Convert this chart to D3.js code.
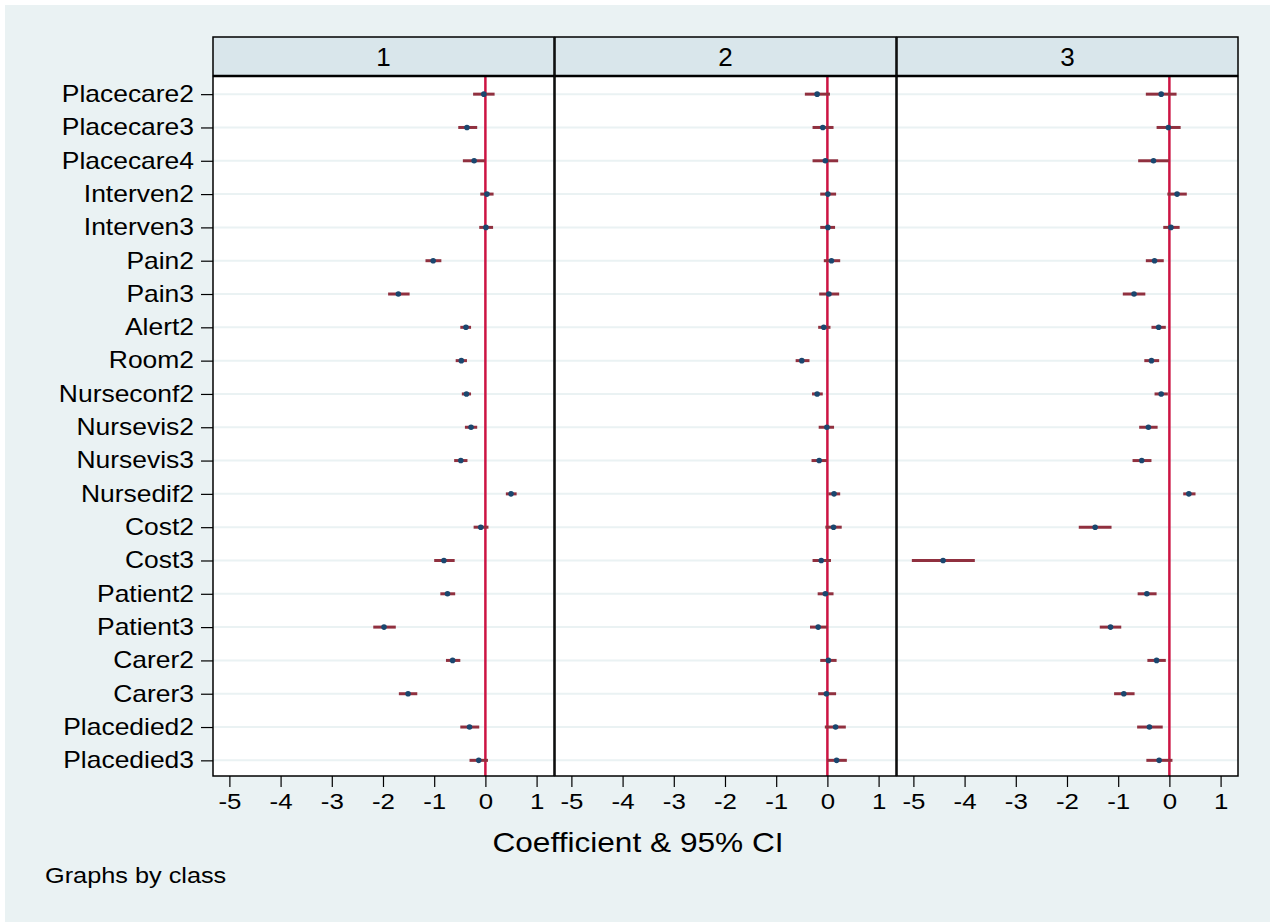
<!DOCTYPE html>
<html>
<head>
<meta charset="utf-8">
<script src="https://cdn.jsdelivr.net/npm/d3@7"></script>
<style>
  body { margin: 0; background: #fff; }
  svg text { font-family: "Liberation Sans", Arial, sans-serif; fill: #000; }
</style>
</head>
<body>
<svg id="chart" width="1270" height="922"></svg>
<script>
// variables, top to bottom
const labels = ["Placecare2", "Placecare3", "Placecare4", "Interven2", "Interven3",
  "Pain2", "Pain3", "Alert2", "Room2", "Nurseconf2", "Nursevis2", "Nursevis3",
  "Nursedif2", "Cost2", "Cost3", "Patient2", "Patient3", "Carer2", "Carer3",
  "Placedied2", "Placedied3"];

const classes = ["1", "2", "3"];
const xTicks = [-5, -4, -3, -2, -1, 0, 1];

// coefficients per class
const coef1 = [-0.03, -0.36, -0.22, 0.03, 0.01, -1.02, -1.70, -0.38, -0.47, -0.37, -0.28,
  -0.48, 0.50, -0.09, -0.81, -0.74, -1.98, -0.64, -1.51, -0.31, -0.13];
const lo1 = [-0.24, -0.53, -0.44, -0.10, -0.12, -1.17, -1.90, -0.49, -0.58, -0.46, -0.40,
  -0.61, 0.40, -0.23, -1.00, -0.88, -2.19, -0.77, -1.69, -0.49, -0.31];
const hi1 = [0.18, -0.16, -0.01, 0.16, 0.15, -0.86, -1.48, -0.28, -0.36, -0.28, -0.16,
  -0.35, 0.61, 0.06, -0.60, -0.59, -1.75, -0.49, -1.33, -0.12, 0.05];

const coef2 = [-0.20, -0.09, -0.04, 0.01, 0.01, 0.08, 0.03, -0.07, -0.50, -0.20, -0.01,
  -0.16, 0.13, 0.12, -0.12, -0.04, -0.18, 0.02, -0.02, 0.16, 0.18];
const lo2 = [-0.44, -0.29, -0.29, -0.14, -0.14, -0.07, -0.16, -0.18, -0.62, -0.30, -0.17,
  -0.31, 0.02, -0.04, -0.29, -0.19, -0.34, -0.14, -0.18, -0.05, 0.00];
const hi2 = [0.05, 0.12, 0.21, 0.17, 0.15, 0.25, 0.23, 0.06, -0.35, -0.09, 0.13,
  -0.01, 0.25, 0.28, 0.07, 0.12, 0.00, 0.18, 0.17, 0.36, 0.38];

const coef3 = [-0.16, -0.02, -0.31, 0.15, 0.03, -0.29, -0.69, -0.21, -0.35, -0.16, -0.41,
  -0.54, 0.38, -1.45, -4.42, -0.44, -1.15, -0.25, -0.89, -0.39, -0.20];
const lo3 = [-0.46, -0.25, -0.61, -0.04, -0.12, -0.46, -0.91, -0.35, -0.49, -0.29, -0.59,
  -0.72, 0.27, -1.77, -5.03, -0.62, -1.36, -0.43, -1.08, -0.63, -0.45];
const hi3 = [0.14, 0.22, -0.01, 0.34, 0.20, -0.11, -0.47, -0.07, -0.20, -0.03, -0.23,
  -0.35, 0.51, -1.13, -3.80, -0.25, -0.94, -0.07, -0.68, -0.13, 0.06];

const coefs = [coef1, coef2, coef3];
const lows = [lo1, lo2, lo3];
const highs = [hi1, hi2, hi3];

// layout
const panelLeft = 213, panelW = 341, panelStep = 342;
const stripTop = 37, stripBottom = 75.5;
const plotTop = 76.5, plotBottom = 776;
const stretch = 1.15; // stata text is wider than arial

const svg = d3.select("#chart");

svg.append("rect").attr("x", 5).attr("y", 5).attr("width", 1265).attr("height", 917)
  .attr("fill", "#eaf2f3");

const y = d3.scalePoint().domain(labels).range([plotTop + 1, plotBottom + 1]).padding(0.5);

classes.forEach((cls, i) => {
  const x0 = panelLeft + i * panelStep;
  const x = d3.scaleLinear().domain([-5.32, 1.34]).range([x0, x0 + panelW]);
  const g = svg.append("g");

  // header strip
  g.append("rect").attr("x", x0).attr("y", stripTop).attr("width", panelW)
    .attr("height", stripBottom - stripTop).attr("fill", "#d9e6eb")
    .attr("stroke", "#000").attr("stroke-width", 1.5);
  g.append("text").attr("x", x0 + panelW / 2).attr("y", 66)
    .attr("text-anchor", "middle").attr("font-size", 26).text(cls);

  // plot area
  g.append("rect").attr("x", x0).attr("y", plotTop).attr("width", panelW)
    .attr("height", plotBottom - plotTop).attr("fill", "#fff");

  g.selectAll(".grid").data(labels).join("line")
    .attr("x1", x0).attr("x2", x0 + panelW)
    .attr("y1", d => y(d)).attr("y2", d => y(d))
    .attr("stroke", "#eaf2f3").attr("stroke-width", 2);

  g.append("line").attr("x1", x(0)).attr("x2", x(0))
    .attr("y1", plotTop).attr("y2", plotBottom)
    .attr("stroke", "#cc1443").attr("stroke-width", 2.5);

  const rows = labels.map((l, j) => ({ l, b: coefs[i][j], lo: lows[i][j], hi: highs[i][j] }));

  g.selectAll(".ci").data(rows).join("line")
    .attr("x1", d => x(d.lo)).attr("x2", d => x(d.hi))
    .attr("y1", d => y(d.l)).attr("y2", d => y(d.l))
    .attr("stroke", "#90303f").attr("stroke-width", 3);

  g.selectAll(".pt").data(rows).join("circle")
    .attr("cx", d => x(d.b)).attr("cy", d => y(d.l)).attr("r", 2.8)
    .attr("fill", "#1a476f");

  g.append("rect").attr("x", x0).attr("y", plotTop).attr("width", panelW)
    .attr("height", plotBottom - plotTop).attr("fill", "none")
    .attr("stroke", "#000").attr("stroke-width", 1.5);

  // bottom axis
  const ax = g.append("g").attr("transform", `translate(0,${plotBottom})`)
    .call(d3.axisBottom(x).tickValues(xTicks).tickSize(11).tickPadding(6)
      .tickFormat(d3.format("d")));
  ax.select(".domain").remove();
  ax.selectAll("line").attr("stroke", "#000").attr("stroke-width", 1.2);
  ax.selectAll("text").attr("font-size", 22.5).attr("font-family", "Liberation Sans, Arial")
    .attr("transform", `scale(${stretch},1)`)
    .text(d => d < 0 ? "-" + Math.abs(d) : d);

  if (i === 0) {
    const ay = g.append("g").attr("transform", `translate(${x0},0)`)
      .call(d3.axisLeft(y).tickSize(12).tickPadding(5));
    ay.select(".domain").remove();
    ay.selectAll("line").attr("stroke", "#000").attr("stroke-width", 1.2);
    ay.selectAll("text").attr("font-size", 23).attr("font-family", "Liberation Sans, Arial")
      .attr("x", -19 / stretch).attr("transform", `scale(${stretch},1)`);
  }
});

svg.append("text").attr("x", 638).attr("y", 852).attr("text-anchor", "middle")
  .attr("font-size", 27.5).attr("transform", `translate(638,0) scale(${stretch},1) translate(-638,0)`)
  .text("Coefficient & 95% CI");

svg.append("text").attr("x", 45 / stretch).attr("y", 883).attr("font-size", 22)
  .attr("transform", `scale(${stretch},1)`)
  .text("Graphs by class");
</script>
</body>
</html>
